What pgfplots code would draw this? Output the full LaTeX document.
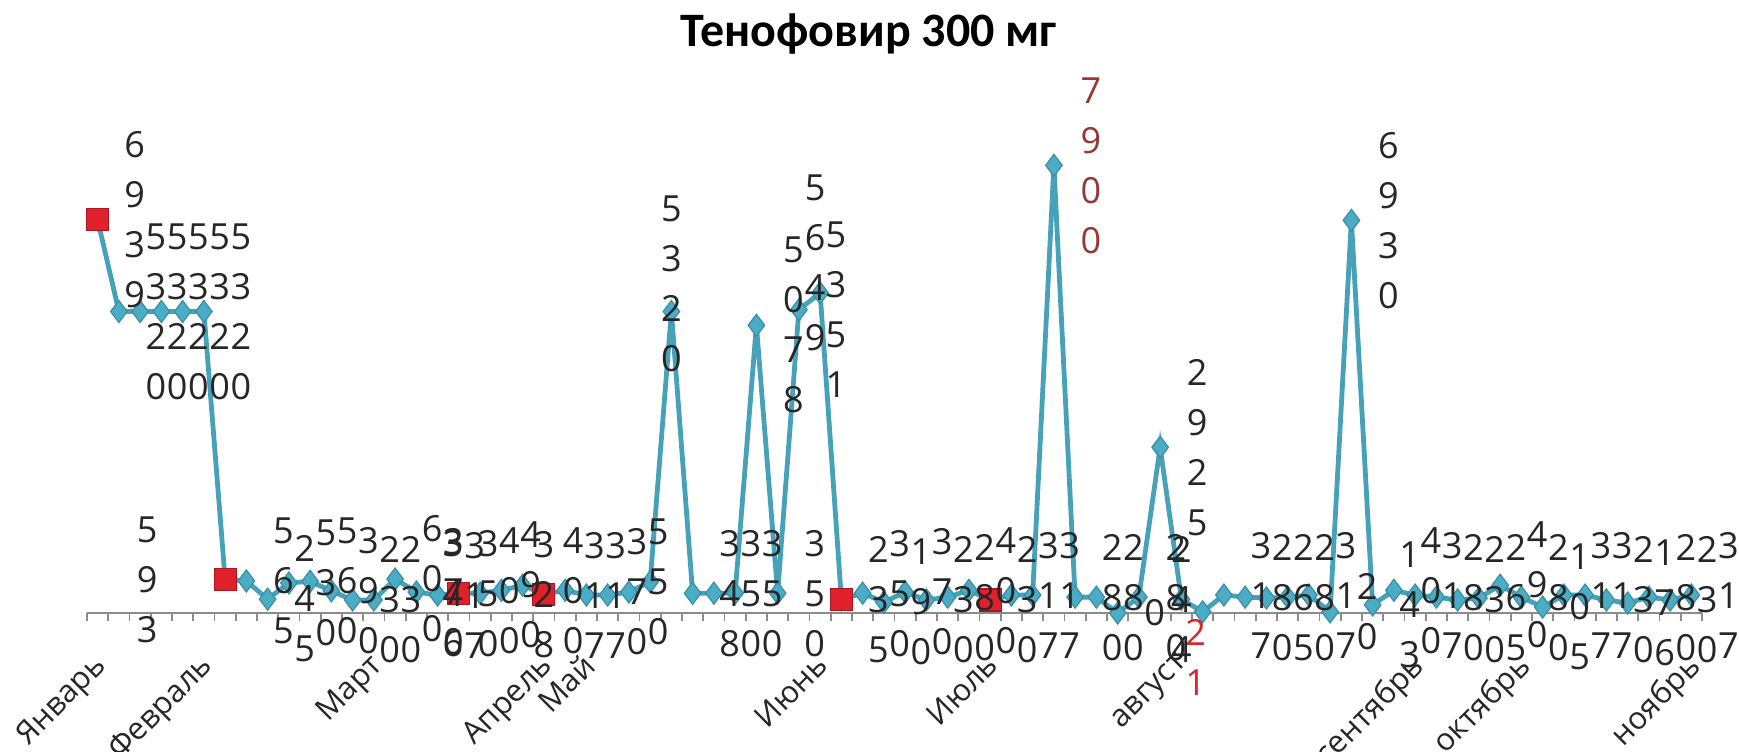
\documentclass[border=0pt]{standalone}
\usepackage{fontspec}
\setmainfont{Open Sans}
\newfontfamily\titlefont{Carlito}
\usepackage{pgfplots}
\pgfplotsset{compat=1.18}
\usepackage{pgfplotstable}

\definecolor{linecol}{HTML}{46A1B9}
\definecolor{diafill}{HTML}{4BACC6}
\definecolor{diaedge}{HTML}{3A8EA6}
\definecolor{sqfill}{HTML}{E0202B}
\definecolor{sqedge}{HTML}{A8171F}
\definecolor{lblk}{HTML}{262626}
\definecolor{lred}{HTML}{953735}
\definecolor{lredb}{HTML}{D7262E}
\definecolor{axcol}{HTML}{8C8C8C}

% stack the digits of a label one under another
\def\vstack#1{\vstackA#1\relax}
\def\vstackA#1#2\relax{#1\ifx\relax#2\relax\else\\\vstackA#2\relax\fi}

\pgfplotstableread{
x y lab dx dy
0 6939 6939 18.5 0
1 5320 5320 18.5 0
2 5320 5320 18.5 0
3 5320 5320 18.5 0
4 5320 5320 18.5 0
5 5320 5320 18.5 0
6 593 593 -39 0
7 565 565 18.5 0
8 245 245 18.5 0
9 530 530 18.5 0
10 560 560 18.5 0
11 390 390 18.5 0
12 230 230 18.5 0
13 230 230 18.5 0
14 600 600 18.5 0
15 370 370 18.5 0
16 317 317 18.5 0
17 346 346 -3 0
18 350 350 4 0
19 400 400 4 0
20 490 490 4 0
21 328 328 0 0
22 400 400 4 0
23 317 317 4 0
24 317 317 4 0
25 370 370 4 0
26 550 550 4 0
27 5320 5320 0 14
28 348 348 18.5 0
29 350 350 18.5 0
30 350 350 18.5 0
31 5078 5078 18.5 0
32 350 350 18.5 0
33 5351 5351 18.5 0
34 5649 5649 -2.5 15
35 235 235 18.5 0
36 350 350 18.5 0
37 190 190 18.5 0
38 370 370 18.5 0
39 230 230 18.5 0
40 280 280 18.5 0
41 400 400 18.5 0
42 230 230 18.5 0
43 317 317 18.5 0
44 317 317 18.5 0
45 7900 7900 18.5 0
46 280 280 18.5 0
47 280 280 18.5 0
48 0 0 18.5 0
49 280 280 18.5 0
50 2925 2925 18.5 0
51 244 244 0 0
52 21 21 -3.5 -23
53 317 317 18.5 0
54 280 280 18.5 0
55 265 265 18.5 0
56 280 280 18.5 0
57 317 317 18.5 0
58 20 20 18.5 0
59 6930 6930 18.5 0
60 143 143 18.5 0
61 400 400 18.5 0
62 317 317 18.5 0
63 280 280 18.5 0
64 230 230 18.5 0
65 265 265 18.5 0
66 490 490 18.5 0
67 280 280 18.5 0
68 105 105 18.5 0
69 317 317 18.5 0
70 317 317 18.5 0
71 230 230 18.5 0
72 176 176 18.5 0
73 280 280 18.5 0
74 230 230 18.5 0
75 317 317 18.5 0
}\datatab

\pgfplotstableread{
x y
0 6939
6 593
17 346
21 328
35 235
42 230
}\redtab

\pgfplotsset{
  digitlabels/.style={draw=none, point meta=explicit symbolic,
    visualization depends on={\thisrow{dx}\as\ldx},
    visualization depends on={\thisrow{dy}\as\ldy},
    nodes near coords={\expandafter\vstack\expandafter{\pgfplotspointmeta}},
    nodes near coords style={anchor=center, inner sep=0pt, align=center,
      xshift=\ldx, yshift=\ldy, text=#1, font=\fontsize{18}{25}\selectfont}},
}

\begin{document}
\begin{tikzpicture}
\begin{axis}[
  scale only axis, width=807.5pt, height=255pt,
  xmin=-0.5, xmax=75.5, ymin=0, ymax=9000,
  axis y line=none, axis x line*=bottom,
  x axis line style={axcol, line width=1pt},
  xtick={-0.5,0.5,...,75.5}, xticklabels={},
  tick align=outside, major tick length=4pt,
  x tick style={axcol, line width=0.8pt},
  extra x ticks={0,5,13,21,23,34,42,51,62,67,75},
  extra x tick labels={Январь,Февраль,Март,Апрель,Май,Июнь,Июль,август,сентябрь,октябрь,ноябрь},
  extra x tick style={major tick length=0pt,
    tick label style={xshift=-3pt, yshift=-19pt, rotate=45, anchor=north east,
      inner sep=0pt, text=lblk, font=\fontsize{15.5}{18}\selectfont}},
  title={\titlefont\bfseries Тенофовир 300 мг},
  title style={at={(0.484,1)}, anchor=center, yshift=28.5pt, font=\fontsize{24}{28}\selectfont},
  clip=false,
]
\addplot[linecol, line width=2.4pt, mark=diamond*, mark size=5.5pt,
  mark options={fill=diafill, draw=diaedge, line width=0.6pt}]
  table[x=x, y=y] {\datatab};
\addplot[only marks, mark=square*, mark size=5.5pt,
  mark options={fill=sqfill, draw=sqedge, line width=0.6pt}]
  table[x=x, y=y] {\redtab};
\addplot[digitlabels=lblk, x filter/.expression={(x==45||x==52) ? nan : x}]
  table[x=x, y=y, meta=lab] {\datatab};
\addplot[digitlabels=lred, x filter/.expression={(x==45) ? x : nan}]
  table[x=x, y=y, meta=lab] {\datatab};
\addplot[digitlabels=lredb, x filter/.expression={(x==52) ? x : nan}]
  table[x=x, y=y, meta=lab] {\datatab};
\end{axis}
\pgfresetboundingbox
\path[use as bounding box] (-43.5pt,-69pt) rectangle (826pt,306.5pt);
\end{tikzpicture}
\end{document}
